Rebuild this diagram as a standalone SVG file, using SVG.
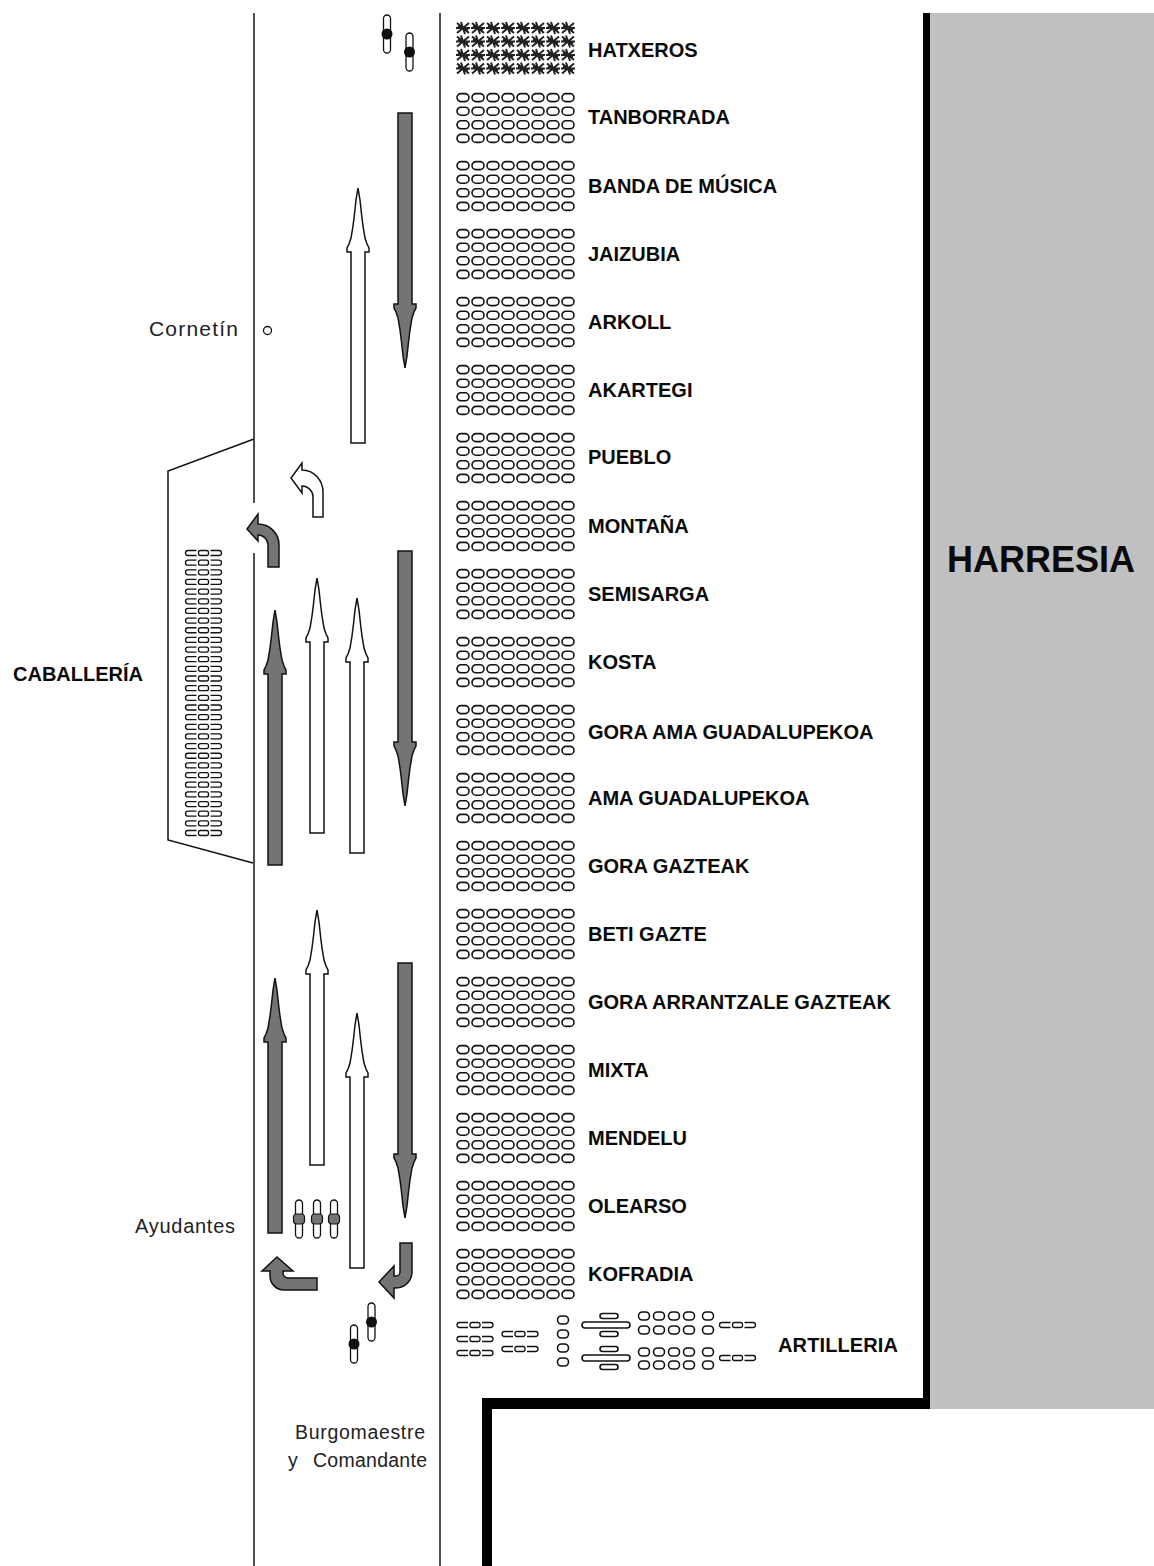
<svg xmlns="http://www.w3.org/2000/svg" xmlns:xlink="http://www.w3.org/1999/xlink" width="1154" height="1566" viewBox="0 0 1154 1566">
<style>
.o{fill:#fff;stroke:#111;stroke-width:1.6}
.lbl{font-family:"Liberation Sans",Arial,sans-serif;font-weight:bold;font-size:20px;fill:#0a0a0a}
.txt{font-family:"Liberation Sans",Arial,sans-serif;font-size:20px;fill:#222}
.dark{fill:#747474;stroke:#111;stroke-width:1.5}
.white{fill:#fff;stroke:#111;stroke-width:1.5}
.road{stroke:#222;stroke-width:1.6;fill:none}
.st{fill:none;stroke:#222;stroke-width:2}
.cav{fill:none;stroke:#111;stroke-width:1.3}
</style>
<defs>
<g id="brow">
<rect class="o" x="0" y="0" width="12" height="8" rx="4"/>
<rect class="o" x="15" y="0" width="12" height="8" rx="4"/>
<rect class="o" x="30" y="0" width="12" height="8" rx="4"/>
<rect class="o" x="45" y="0" width="12" height="8" rx="4"/>
<rect class="o" x="60" y="0" width="12" height="8" rx="4"/>
<rect class="o" x="75" y="0" width="12" height="8" rx="4"/>
<rect class="o" x="90" y="0" width="12" height="8" rx="4"/>
<rect class="o" x="105" y="0" width="12" height="8" rx="4"/>
</g>
<g id="blk">
<use href="#brow" y="-24.4"/><use href="#brow" y="-10.8"/><use href="#brow" y="2.8"/><use href="#brow" y="16.4"/>
</g>
<path id="star" class="st" d="M-6,-5 L6,5 M-6,5 L6,-5 M-7,0 H7 M-2,-6 L2,6 M-5,-2 L5,2"/>
<g id="srow">
<use href="#star" x="6"/><use href="#star" x="21"/><use href="#star" x="36"/><use href="#star" x="51"/>
<use href="#star" x="66"/><use href="#star" x="81"/><use href="#star" x="96"/><use href="#star" x="111"/>
</g>
<g id="cav" class="cav">
<path d="M-7,-2.5 H-15.5 A2.5,2.5 0 0 0 -15.5,2.5 H-7 M7,-2.5 H15.5 A2.5,2.5 0 0 1 15.5,2.5 H7"/>
<rect x="-5" y="-2.5" width="10" height="5" rx="2"/>
</g>
<g id="per">
<rect x="-3.5" y="-19" width="7" height="38" rx="3.5" fill="#fff" stroke="#111" stroke-width="1.3"/>
<circle r="5.5" fill="#111"/>
</g>
<g id="aid">
<rect x="-3.5" y="-19" width="7" height="38" rx="3.5" fill="#fff" stroke="#111" stroke-width="1.3"/>
<rect x="-5.5" y="-5" width="11" height="10" rx="3" fill="#747474" stroke="#111" stroke-width="1.2"/>
</g>
<path id="arr" d="M0,0 L2,12 L3.5,26 L5,38 L7,50 L9,56 L11,60 L11,64 L7,64 L7,255 L-7,255 L-7,64 L-11,64 L-11,60 L-9,56 L-7,50 L-5,38 L-3.5,26 L-2,12 Z"/>
<rect id="so" class="o" x="-5.5" y="-4" width="11" height="8" rx="4"/>
</defs>

<rect width="1154" height="1566" fill="#fff"/>

<g id="wall">
<rect x="929" y="13" width="225" height="1396" fill="#c0c0c0"/>
<rect x="923" y="13" width="7" height="1396" fill="#000"/>
<rect x="482" y="1398" width="448" height="11" fill="#000"/>
<rect x="482" y="1398" width="10" height="168" fill="#000"/>
<text class="lbl" x="947" y="572" style="font-size:36px" textLength="188">HARRESIA</text>
</g>

<g id="road">
<line class="road" x1="254" y1="13" x2="254" y2="503"/>
<line class="road" x1="254" y1="553" x2="254" y2="1566"/>
<line class="road" x1="440" y1="13" x2="440" y2="1566"/>
</g>

<g id="connectors">
<use href="#arr" class="dark" transform="translate(405,368) rotate(180)"/>
<use href="#arr" class="dark" transform="translate(405,806) rotate(180)"/>
<use href="#arr" class="dark" transform="translate(405,1218) rotate(180)"/>
<use href="#arr" class="dark" transform="translate(275,610)"/>
<use href="#arr" class="dark" transform="translate(275,978)"/>
<use href="#arr" class="white" transform="translate(358,188)"/>
<use href="#arr" class="white" transform="translate(317,578)"/>
<use href="#arr" class="white" transform="translate(357,598)"/>
<use href="#arr" class="white" transform="translate(317,910)"/>
<use href="#arr" class="white" transform="translate(357,1013)"/>
<path class="white" d="M323,517 L323,492 A21,22 0 0 0 302,470 L302,463 L291,478 L302,493 L302,486 A11,11 0 0 1 313,497 L313,517 Z"/>
<path class="dark" d="M279,567 L279,545 A21,21 0 0 0 258,524 L258,514 L247,529 L258,541 L258,535 A10,10 0 0 1 268,545 L268,567 Z"/>
<path class="dark" d="M317,1290 L284,1290 A14,14 0 0 1 270,1276 L270,1271 L262,1271 L277,1257 L293,1271 L283,1271 L283,1273 A5,5 0 0 0 288,1278 L317,1278 Z"/>
<path class="dark" d="M400,1243 L412,1243 L412,1272 A16,16 0 0 1 396,1288 L394,1288 L394,1298 L379,1282 L394,1266 L394,1276 L396,1276 A4,4 0 0 0 400,1272 Z"/>
</g>

<g id="n-cornetin">
<text class="txt" x="149" y="336" style="font-size:21px" textLength="89">Cornetín</text>
<circle cx="267.5" cy="330.5" r="4" fill="#fff" stroke="#111" stroke-width="1.3"/>
</g>

<g id="n-caballeria">
<polyline points="254,439 168,471 168,840 253,863" fill="none" stroke="#111" stroke-width="1.5"/>
<text class="lbl" x="13" y="681" textLength="130">CABALLERÍA</text>
<use href="#cav" x="203.5" y="553"/><use href="#cav" x="203.5" y="562.66"/><use href="#cav" x="203.5" y="572.31"/>
<use href="#cav" x="203.5" y="581.97"/><use href="#cav" x="203.5" y="591.62"/><use href="#cav" x="203.5" y="601.28"/>
<use href="#cav" x="203.5" y="610.93"/><use href="#cav" x="203.5" y="620.59"/><use href="#cav" x="203.5" y="630.24"/>
<use href="#cav" x="203.5" y="639.9"/><use href="#cav" x="203.5" y="649.55"/><use href="#cav" x="203.5" y="659.21"/>
<use href="#cav" x="203.5" y="668.86"/><use href="#cav" x="203.5" y="678.52"/><use href="#cav" x="203.5" y="688.17"/>
<use href="#cav" x="203.5" y="697.83"/><use href="#cav" x="203.5" y="707.48"/><use href="#cav" x="203.5" y="717.14"/>
<use href="#cav" x="203.5" y="726.79"/><use href="#cav" x="203.5" y="736.45"/><use href="#cav" x="203.5" y="746.1"/>
<use href="#cav" x="203.5" y="755.76"/><use href="#cav" x="203.5" y="765.41"/><use href="#cav" x="203.5" y="775.07"/>
<use href="#cav" x="203.5" y="784.72"/><use href="#cav" x="203.5" y="794.38"/><use href="#cav" x="203.5" y="804.03"/>
<use href="#cav" x="203.5" y="813.69"/><use href="#cav" x="203.5" y="823.34"/><use href="#cav" x="203.5" y="833"/>
</g>

<g id="n-gastadores">
<use href="#per" x="387" y="34"/>
<use href="#per" x="409.5" y="52"/>
</g>

<g id="n-ayudantes">
<text class="txt" x="135" y="1233" textLength="100">Ayudantes</text>
<use href="#aid" x="299" y="1219"/>
<use href="#aid" x="317" y="1219"/>
<use href="#aid" x="334" y="1219"/>
</g>

<g id="n-burgomaestre">
<use href="#per" x="371.5" y="1322"/>
<use href="#per" x="354" y="1344"/>
<text class="txt" x="295" y="1439" style="font-size:19.5px" textLength="130">Burgomaestre</text>
<text class="txt" x="288" y="1467" style="font-size:19.5px">y</text>
<text class="txt" x="313" y="1467" style="font-size:19.5px" textLength="114">Comandante</text>
</g>

<g id="n-hatxeros">
<use href="#srow" x="457" y="28"/><use href="#srow" x="457" y="41.5"/><use href="#srow" x="457" y="55"/><use href="#srow" x="457" y="68.5"/>
<text class="lbl" x="588" y="57">HATXEROS</text>
</g>
<g id="n-tanborrada"><use href="#blk" x="457" y="118"/><text class="lbl" x="588" y="124">TANBORRADA</text></g>
<g id="n-banda"><use href="#blk" x="457" y="186"/><text class="lbl" x="588" y="193">BANDA DE MÚSICA</text></g>
<g id="n-jaizubia"><use href="#blk" x="457" y="254"/><text class="lbl" x="588" y="261">JAIZUBIA</text></g>
<g id="n-arkoll"><use href="#blk" x="457" y="322"/><text class="lbl" x="588" y="329">ARKOLL</text></g>
<g id="n-akartegi"><use href="#blk" x="457" y="390"/><text class="lbl" x="588" y="397">AKARTEGI</text></g>
<g id="n-pueblo"><use href="#blk" x="457" y="458"/><text class="lbl" x="588" y="464">PUEBLO</text></g>
<g id="n-montana"><use href="#blk" x="457" y="526"/><text class="lbl" x="588" y="533">MONTAÑA</text></g>
<g id="n-semisarga"><use href="#blk" x="457" y="594"/><text class="lbl" x="588" y="601">SEMISARGA</text></g>
<g id="n-kosta"><use href="#blk" x="457" y="662"/><text class="lbl" x="588" y="669">KOSTA</text></g>
<g id="n-gora-ama"><use href="#blk" x="457" y="730"/><text class="lbl" x="588" y="739">GORA AMA  GUADALUPEKOA</text></g>
<g id="n-ama"><use href="#blk" x="457" y="798"/><text class="lbl" x="588" y="805">AMA GUADALUPEKOA</text></g>
<g id="n-gora-gazteak"><use href="#blk" x="457" y="866"/><text class="lbl" x="588" y="873">GORA GAZTEAK</text></g>
<g id="n-beti-gazte"><use href="#blk" x="457" y="934"/><text class="lbl" x="588" y="941">BETI GAZTE</text></g>
<g id="n-gora-arrantzale"><use href="#blk" x="457" y="1002"/><text class="lbl" x="588" y="1009">GORA ARRANTZALE GAZTEAK</text></g>
<g id="n-mixta"><use href="#blk" x="457" y="1070"/><text class="lbl" x="588" y="1077">MIXTA</text></g>
<g id="n-mendelu"><use href="#blk" x="457" y="1138"/><text class="lbl" x="588" y="1145">MENDELU</text></g>
<g id="n-olearso"><use href="#blk" x="457" y="1206"/><text class="lbl" x="588" y="1213">OLEARSO</text></g>
<g id="n-kofradia"><use href="#blk" x="457" y="1274"/><text class="lbl" x="588" y="1281">KOFRADIA</text></g>

<g id="n-artilleria">
<use href="#cav" x="475" y="1325"/><use href="#cav" x="475" y="1339"/><use href="#cav" x="475" y="1353"/>
<use href="#cav" x="520" y="1334"/><use href="#cav" x="520" y="1349"/>
<use href="#so" x="563" y="1320"/><use href="#so" x="563" y="1334"/><use href="#so" x="563" y="1348"/><use href="#so" x="563" y="1362"/>
<rect class="o" x="600" y="1313.5" width="18" height="5" rx="2.5"/>
<rect class="o" x="582" y="1322" width="48" height="6" rx="3"/>
<rect class="o" x="600" y="1331.5" width="18" height="5" rx="2.5"/>
<rect class="o" x="600" y="1346.5" width="18" height="5" rx="2.5"/>
<rect class="o" x="582" y="1355" width="48" height="6" rx="3"/>
<rect class="o" x="600" y="1364.5" width="18" height="5" rx="2.5"/>
<use href="#so" x="644" y="1316"/><use href="#so" x="659" y="1316"/><use href="#so" x="674" y="1316"/><use href="#so" x="689" y="1316"/><use href="#so" x="708" y="1316"/>
<use href="#so" x="644" y="1330"/><use href="#so" x="659" y="1330"/><use href="#so" x="674" y="1330"/><use href="#so" x="689" y="1330"/><use href="#so" x="708" y="1330"/>
<use href="#so" x="644" y="1352"/><use href="#so" x="659" y="1352"/><use href="#so" x="674" y="1352"/><use href="#so" x="689" y="1352"/><use href="#so" x="708" y="1352"/>
<use href="#so" x="644" y="1365"/><use href="#so" x="659" y="1365"/><use href="#so" x="674" y="1365"/><use href="#so" x="689" y="1365"/><use href="#so" x="708" y="1365"/>
<use href="#cav" x="737.5" y="1325"/><use href="#cav" x="737.5" y="1358"/>
<text class="lbl" x="778" y="1352" textLength="120">ARTILLERIA</text>
</g>
</svg>
